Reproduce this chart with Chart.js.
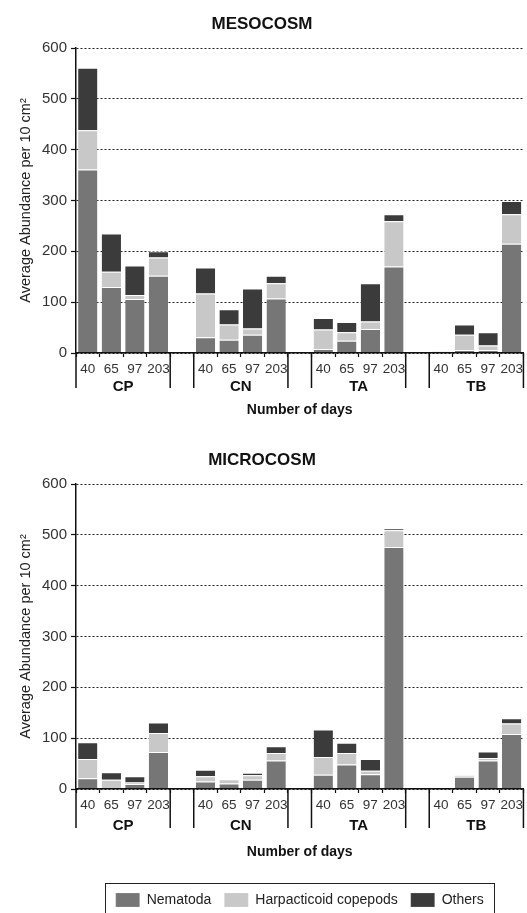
<!DOCTYPE html>
<html>
<head>
<meta charset="utf-8">
<script src="https://cdn.jsdelivr.net/npm/chart.js@4.4.1/dist/chart.umd.min.js"></script>
<style>
  body { margin: 0; background: #fff; overflow: hidden; }
  .box { position: absolute; left: 0; width: 527px; }
</style>
</head>
<body>
<div class="box" style="top:0"><canvas id="meso" width="527" height="435"></canvas></div>
<div class="box" style="top:436px"><canvas id="micro" width="527" height="481"></canvas></div>
<script>
// categories
const days = ["40", "65", "97", "203"];
const sites = ["CP", "CN", "TA", "TB"];

// MESOCOSM (CP, CN, TA, TB x 40, 65, 97, 203 days)
const mesoNematoda = [361, 130, 106, 152, 31, 26, 36, 107, 8, 24, 47, 170, 3, 6, 6, 215];
const mesoHarpacticoid = [77, 30, 8, 36, 86, 30, 12, 30, 38, 17, 15, 89, 2, 30, 9, 58];
const mesoOthers = [123, 75, 58, 12, 51, 30, 79, 15, 23, 20, 75, 14, 0, 20, 26, 26];

// MICROCOSM
const microNematoda = [21, 1, 10, 73, 15, 11, 18, 56, 28, 48, 29, 476, 0, 24, 56, 108];
const microHarpacticoid = [38, 17, 3, 37, 10, 8, 9, 15, 35, 23, 7, 33, 0, 3, 5, 21];
const microOthers = [33, 15, 12, 21, 13, 0, 5, 13, 54, 20, 23, 4, 0, 1, 13, 10];

const yTicks = [0, 100, 200, 300, 400, 500, 600];

const FONT = "'Liberation Sans', Arial, Helvetica, sans-serif";
const colors = { nem: "#767676", harp: "#c8c8c8", oth: "#3b3b3b" };

// put an empty slot between the sites
function withGaps(values) {
  const out = [];
  values.forEach((v, i) => {
    if (i > 0 && i % days.length === 0) out.push(null);
    out.push(v);
  });
  return out;
}

const labels = withGaps(sites.flatMap(() => days)).map((l) => (l === null ? "" : l));

// group labels + long separators under the axis
const siteAxisPlugin = {
  id: "siteAxis",
  afterDraw(chart) {
    const opts = chart.options.plugins.siteAxis;
    const x = chart.scales.x;
    const ctx = chart.ctx;
    const bottom = chart.chartArea.bottom;
    const sw = x.getPixelForValue(1) - x.getPixelForValue(0);
    ctx.save();
    ctx.strokeStyle = "#111";
    ctx.lineWidth = 1.5;
    ctx.fillStyle = "#111";
    ctx.font = "bold 15px " + FONT;
    ctx.textAlign = "center";
    ctx.textBaseline = "middle";
    sites.forEach((site, g) => {
      const first = g * (days.length + 1);
      const last = first + days.length - 1;
      const left = x.getPixelForValue(first) - sw / 2;
      const right = x.getPixelForValue(last) + sw / 2;
      [left, right].forEach((px) => {
        ctx.beginPath();
        ctx.moveTo(px, bottom);
        ctx.lineTo(px, bottom + opts.lineLength);
        ctx.stroke();
      });
      ctx.fillText(site, (left + right) / 2, bottom + opts.labelOffset);
    });
    ctx.restore();
  },
};

// frame round the legend
const legendFramePlugin = {
  id: "legendFrame",
  afterDraw(chart) {
    const lg = chart.legend;
    if (!lg || !lg.options.display || !lg.legendHitBoxes.length) return;
    const hb = lg.legendHitBoxes;
    const first = hb[0];
    const last = hb[hb.length - 1];
    const ctx = chart.ctx;
    ctx.save();
    ctx.strokeStyle = "#222";
    ctx.lineWidth = 1;
    const x1 = Math.round(first.left - 11) + 0.5;
    const x2 = Math.round(last.left + last.width + 10) + 0.5;
    const y1 = Math.round(first.top - 10) + 0.5;
    ctx.strokeRect(x1, y1, x2 - x1, chart.height + 10 - y1);
    ctx.restore();
  },
};

function makeChart(id, title, nem, harp, oth, cfg) {
  const ctx = document.getElementById(id).getContext("2d");
  return new Chart(ctx, {
    type: "bar",
    data: {
      labels: labels,
      datasets: [
        { label: "Nematoda", data: withGaps(nem), backgroundColor: colors.nem },
        { label: "Harpacticoid copepods", data: withGaps(harp), backgroundColor: colors.harp },
        { label: "Others", data: withGaps(oth), backgroundColor: colors.oth },
      ].map((d) => ({
        ...d,
        borderColor: "rgba(255,255,255,0.75)",
        borderWidth: { top: 1, left: 0, right: 0, bottom: 0 },
        borderSkipped: false,
        barPercentage: 0.82,
        categoryPercentage: 1,
      })),
    },
    options: {
      responsive: false,
      animation: false,
      devicePixelRatio: 1,
      layout: { padding: { right: 3 } },
      plugins: {
        title: {
          display: true,
          text: title,
          color: "#111",
          font: { family: FONT, size: 17, weight: "bold", lineHeight: 1.2 },
          padding: { top: 14.6, bottom: 13 },
        },
        legend: {
          display: cfg.legend,
          position: "bottom",
          fullSize: false,
          labels: {
            color: "#222",
            font: { family: FONT, size: 14 },
            boxWidth: 24,
            boxHeight: 14,
            padding: 13,
          },
        },
        tooltip: { enabled: false },
        siteAxis: { lineLength: cfg.lineLength, labelOffset: cfg.labelOffset },
      },
      scales: {
        x: {
          stacked: true,
          offset: true,
          grid: {
            display: true,
            offset: true,
            drawOnChartArea: false,
            drawTicks: true,
            tickLength: 4,
            tickColor: "#111",
            tickWidth: 1.2,
          },
          border: { display: true, color: "#111", width: 1.5, z: 1 },
          ticks: {
            color: "#333",
            font: { family: FONT, size: 13.5 },
            padding: 4,
            maxRotation: 0,
            autoSkip: false,
          },
          title: {
            display: true,
            text: "Number of days",
            color: "#111",
            font: { family: FONT, size: 14, weight: "bold", lineHeight: 1.2 },
            padding: { top: 0, bottom: cfg.titleBottom },
          },
          afterFit(scale) {
            scale.height = cfg.xHeight;
          },
        },
        y: {
          stacked: true,
          min: 0,
          max: 600,
          afterBuildTicks(scale) {
            scale.ticks = yTicks.map((v) => ({ value: v }));
          },
          grid: {
            color: "#222",
            lineWidth: 1,
            tickLength: 5,
            tickColor: "#111",
            tickWidth: 1.2,
            tickBorderDash: [],
          },
          border: { display: true, color: "#111", width: 1.5, dash: [2, 2], z: 1 },
          ticks: {
            color: "#333",
            font: { family: FONT, size: 15 },
            padding: 4,
          },
          title: {
            display: true,
            text: "Average Abundance per 10 cm\u00B2",
            color: "#222",
            font: { family: FONT, size: 14.5, lineHeight: 1.2 },
            padding: { top: 17, bottom: 0 },
          },
          afterFit(scale) {
            scale.width = 76;
          },
        },
      },
    },
    plugins: [siteAxisPlugin, legendFramePlugin],
  });
}

makeChart("meso", "MESOCOSM", mesoNematoda, mesoHarpacticoid, mesoOthers, {
  legend: false,
  xHeight: 82,
  titleBottom: 16.6,
  lineLength: 35,
  labelOffset: 34,
});

makeChart("micro", "MICROCOSM", microNematoda, microHarpacticoid, microOthers, {
  legend: true,
  xHeight: 91,
  titleBottom: 19.6,
  lineLength: 39,
  labelOffset: 37,
});
</script>
</body>
</html>
